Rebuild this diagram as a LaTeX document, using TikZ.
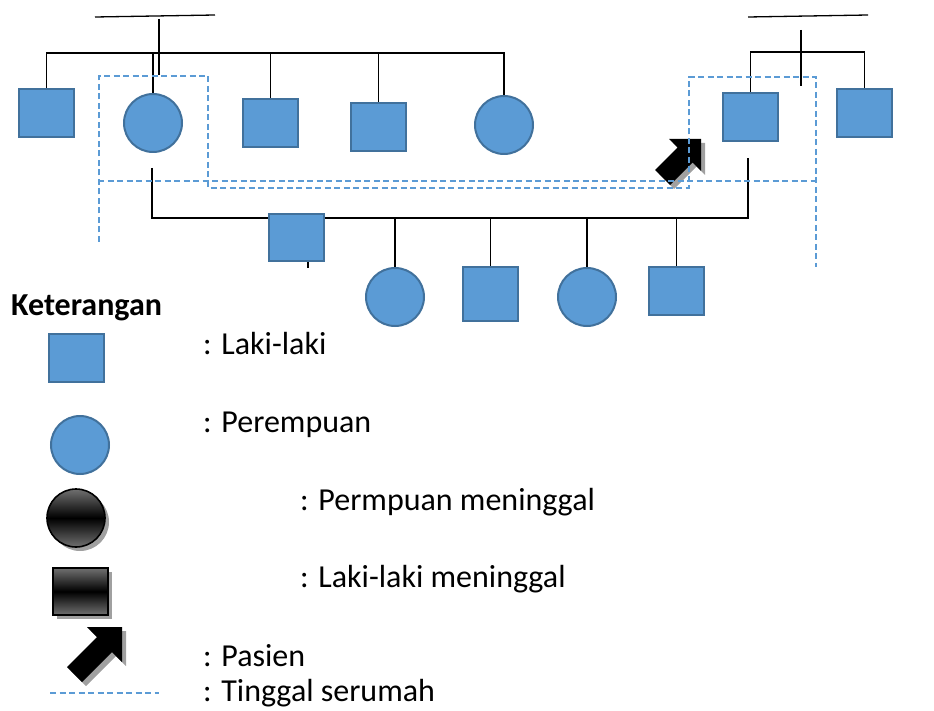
\documentclass[tikz,border=0pt]{standalone}
\usepackage{fontspec}
\setmainfont{Carlito}
\definecolor{pblue}{HTML}{5B9BD5}
\definecolor{pborder}{HTML}{41719C}
\definecolor{dgray}{HTML}{707070}
\definecolor{shgray}{HTML}{A0A0A0}
\tikzset{
  male/.style={rectangle, draw=pborder, fill=pblue, line width=2pt, minimum width=55pt, minimum height=48pt, inner sep=0pt},
  female/.style={circle, draw=pborder, fill=pblue, line width=2pt, minimum size=58pt, inner sep=0pt},
  link/.style={draw=black, line width=1.3pt},
  home/.style={draw=pblue, line width=1.4pt, dash pattern=on 6pt off 3.5pt},
  legtext/.style={anchor=base west, inner sep=0pt, font=\fontsize{32}{38}\selectfont},
  deadbox/.style={draw=black, line width=1.6pt, top color=dgray, bottom color=dgray, middle color=black, inner sep=0pt},
  shadowfill/.style={fill=shgray, draw=none},
}
\begin{document}
\begin{tikzpicture}[x=1pt, y=-1pt]
\useasboundingbox (0,0) rectangle (934,711);

% ---------- connector helper coordinates ----------
\coordinate (coupleLa) at (95,17);
\coordinate (coupleLb) at (215,15);
\coordinate (coupleLt) at (159,19);
\coordinate (coupleLd) at (159,75);
\coordinate (sibL) at (0,53);
\coordinate (coupleRa) at (748,17);
\coordinate (coupleRb) at (868,15);
\coordinate (coupleRt) at (801,30);
\coordinate (coupleRd) at (801,86);
\coordinate (sibR) at (0,52);
\coordinate (mL) at (152,168);
\coordinate (mR) at (748,158);
\coordinate (mB) at (0,218);
\coordinate (tick) at (308,268);

% ---------- nodes ----------
\path
  (46.5,113) node[male] (s1) {}
  (153,123) node[female] (c1) {}
  (270.5,123) node[male] (s2) {}
  (378.5,127) node[male] (s3) {}
  (504,125) node[female] (c2) {}
  (750.5,117) node[male] (s7) {}
  (864.5,113) node[male] (s8) {}
  (296.5,237.5) node[male, minimum height=47pt] (s4) {}
  (395,297) node[female] (c3) {}
  (490.5,294) node[male, minimum height=54pt] (s5) {}
  (587,297) node[female] (c4) {}
  (676.5,291) node[male] (s6) {};

% ---------- connectors ----------
\draw[link] (coupleLa) -- (coupleLb);
\draw[link] (coupleLt) -- (coupleLd);
\draw[link] (s1.north) |- (c2.north |- sibL) -- (c2.north);
\draw[link] (c1.north) -- (c1.north |- sibL);
\draw[link] (s2.north) -- (s2.north |- sibL);
\draw[link] (s3.north) -- (s3.north |- sibL);
\draw[link] (coupleRa) -- (coupleRb);
\draw[link] (coupleRt) -- (coupleRd);
\draw[link] (s7.north) |- (s8.north |- sibR) -- (s8.north);
\draw[link] (mL) -- (mL |- mB) -- (mR |- mB) -- (mR);
\draw[link] (c3.north) -- (c3.north |- mB);
\draw[link] (s5.north) -- (s5.north |- mB);
\draw[link] (c4.north) -- (c4.north |- mB);
\draw[link] (s6.north) -- (s6.north |- mB);
\draw[link] (tick |- s4.south) -- (tick);

% redraw s4 over the marriage line
\node[male, minimum height=47pt] at (s4) {};

% ---------- patient arrow ----------
\fill[shadowfill, shift={(705,143)}] (0,0) -- (-32,0) -- (-23.5,8.5) -- (-46,31) -- (-31,46) -- (-8.5,23.5) -- (0,32) -- cycle;
\fill[black, shift={(701,139)}] (0,0) -- (-32,0) -- (-23.5,8.5) -- (-46,31) -- (-31,46) -- (-8.5,23.5) -- (0,32) -- cycle;

% ---------- living together (dashed) ----------
\draw[home] (99,242) -- (99,76) -- (208,76) -- (208,188) -- (689,188) -- (689,77) -- (816,77) -- (816,267);
\draw[home] (98,181) -- (816,181);

% ---------- legend ----------
\node[legtext, font=\fontsize{32}{38}\selectfont\bfseries] (ket) at (11,316) {Keterangan};

\node[male] (lm) at (76.5,358) {};
\node[legtext] (tm) at (203,354) {: Laki-laki};

\node[female] (lf) at (80,445) {};
\node[legtext] (tf) at (203,432) {: Perempuan};

\fill[shadowfill] (80,522) circle (29);
\node[deadbox, circle, minimum size=58pt] (df) at (76,518) {};
\node[legtext] (tdf) at (300,510) {: Permpuan meninggal};

\fill[shadowfill] (57,572) rectangle (112,619);
\node[deadbox, rectangle, minimum width=55pt, minimum height=47pt] (dm) at (80.5,591.5) {};
\node[legtext] (tdm) at (300,587) {: Laki-laki meninggal};

\fill[shadowfill, shift={(126,631)}] (0,0) -- (-35,0) -- (-25,10) -- (-55,40) -- (-40,55) -- (-10,25) -- (0,35) -- cycle;
\fill[black, shift={(122,627)}] (0,0) -- (-35,0) -- (-25,10) -- (-55,40) -- (-40,55) -- (-10,25) -- (0,35) -- cycle;
\node[legtext] (tp) at (203,666) {: Pasien};

\coordinate (hl1) at (50,693);
\coordinate (hl2) at (159,693);
\draw[home] (hl1) -- (hl2);
\node[legtext] (th) at (203,701) {: Tinggal serumah};
\end{tikzpicture}
\end{document}
